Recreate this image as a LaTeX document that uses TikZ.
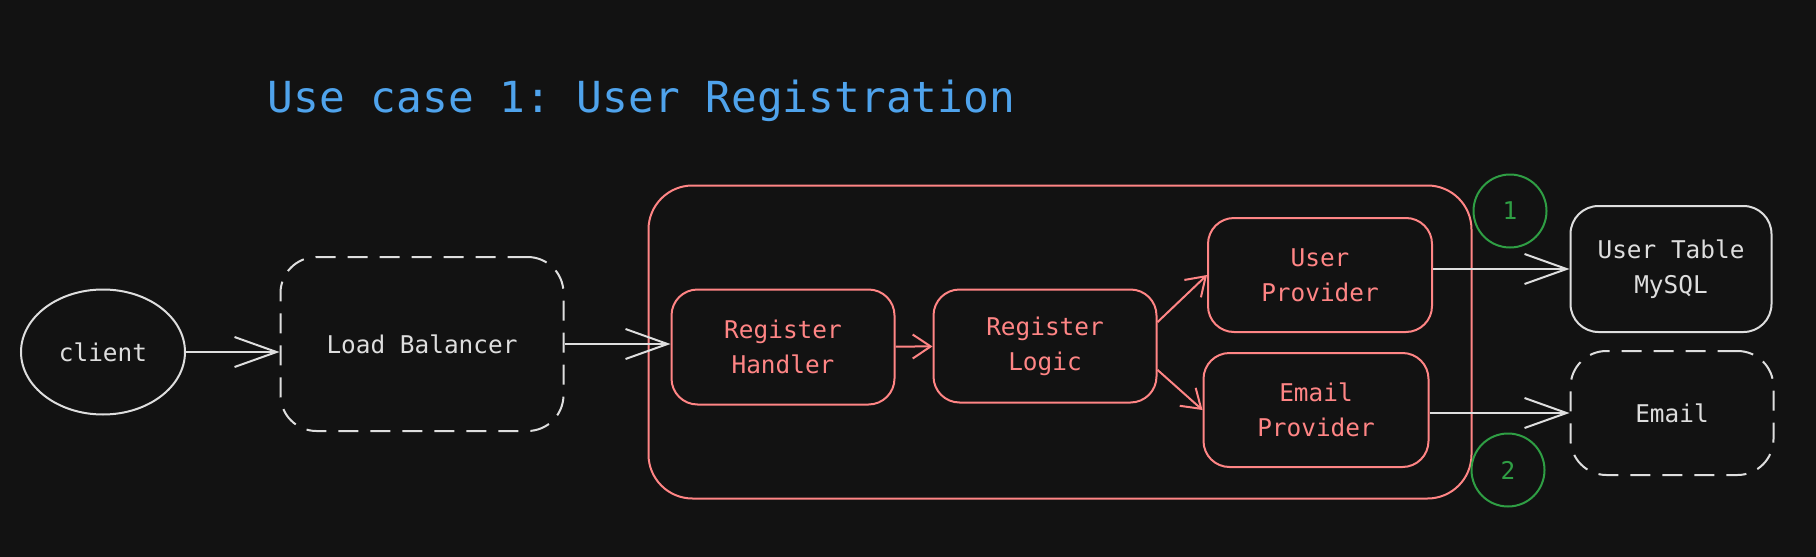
\documentclass[tikz,border=0pt]{standalone}
\usepackage{fontspec}
\setmonofont{DejaVu Sans Mono}
\usetikzlibrary{arrows.meta,shapes.geometric}

\definecolor{bg}{HTML}{121212}
\definecolor{chalk}{HTML}{DEDEDE}
\definecolor{salmon}{HTML}{FF8585}
\definecolor{sky}{HTML}{4FA3EC}
\definecolor{leaf}{HTML}{2F9E44}

\tikzset{
  chalkarrow/.style={draw=chalk, -{Straight Barb[length=21pt,width=15pt]}},
  redarrow/.style={draw=salmon, -{Straight Barb[length=9pt,width=12pt]}},
  dashbox/.style={dash pattern=on 10pt off 6pt, rounded corners=18pt}
}

\begin{document}
\begin{tikzpicture}[x=0.5pt,y=-0.5pt,line width=1pt]

      \fill[bg] (0,0) rectangle (1816,557);

      \node[sky, anchor=base west, font=\ttfamily\fontsize{21.4}{25}\selectfont] (title) at (260,112) {Use case 1: User Registration};

      % the service
      \node[draw=salmon, rounded corners=22pt, minimum width=411.5pt, minimum height=156.5pt] (svc) at (1060,342) {};

      \begin{scope}[every node/.style={draw, align=center, inner sep=0pt, font=\ttfamily\fontsize{12.2}{17.5}\selectfont}]
        \node[chalk, ellipse, minimum width=82pt, minimum height=62.5pt] (client) at (103,352) {client};
        \node[chalk, dashbox, minimum width=141.5pt, minimum height=87pt] (lb) at (422,344) {Load Balancer};

        \node[salmon, rounded corners=13pt, minimum width=111.5pt, minimum height=57.5pt] (handler) at (783,347) {Register\\Handler};
        \node[salmon, rounded corners=13pt, minimum width=111.5pt, minimum height=56.5pt] (logic) at (1045,346) {Register\\Logic};
        \node[salmon, rounded corners=13pt, minimum width=112pt, minimum height=57pt] (userprov) at (1320,275) {User\\Provider};
        \node[salmon, rounded corners=13pt, minimum width=112.5pt, minimum height=57pt] (emailprov) at (1316,410) {Email\\Provider};

        \node[chalk, rounded corners=14pt, minimum width=100.5pt, minimum height=63pt] (usertable) at (1671,269) {User Table\\MySQL};
        \node[chalk, dashbox, minimum width=101.5pt, minimum height=62pt] (email) at (1672,413) {Email};

        \node[leaf, circle, minimum size=36.5pt] (c1) at (1510,211) {1};
        \node[leaf, circle, minimum size=36.5pt] (c2) at (1508,470) {2};
      \end{scope}

      \begin{scope}[every edge/.style={chalkarrow}]
        \path (client.east) edge (client.east -| lb.west);
        \path (lb.east) edge (lb.east -| handler.west);
        \path (userprov.east |- usertable.west) edge (usertable.west);
        \path (emailprov.east |- email.west) edge (email.west);
      \end{scope}

      \begin{scope}[every edge/.style={redarrow}]
        \path (handler) edge (logic);
        \path (logic.12) edge (userprov.west);
        \path (logic.-12) edge (emailprov.west);
      \end{scope}

    \end{tikzpicture}
\end{document}
